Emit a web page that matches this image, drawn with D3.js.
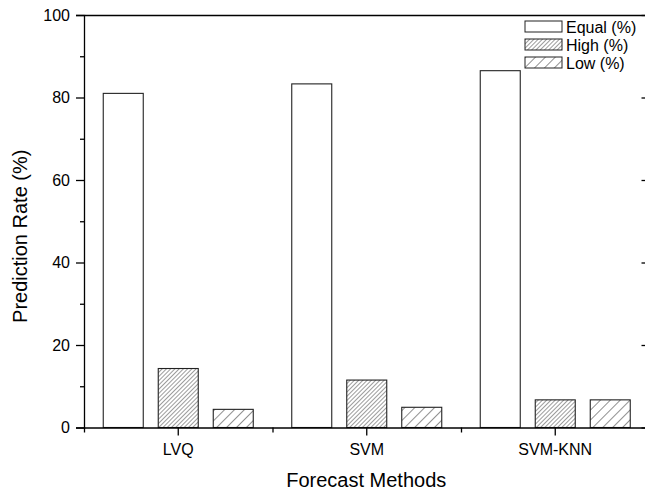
<!DOCTYPE html>
<html lang="en">
<head>
    <meta charset="UTF-8">
    <script src="https://d3js.org/d3.v7.min.js"></script>
    <title>Prediction Rate</title>
    <style>
        body { margin: 0; background: white; }
        text { font-family: "Liberation Sans", Arial, sans-serif; fill: #000; }
        .axis path, .axis line { stroke: #000; stroke-width: 1.3px; }
    </style>
</head>
<body>
    <div class="fig"></div>
    <script>
        const categories = ["LVQ", "SVM", "SVM-KNN"];
        const seriesNames = ["Equal (%)", "High (%)", "Low (%)"];
        const equalValues = [81.0, 83.3, 86.5];
        const highValues = [14.3, 11.5, 6.7];
        const lowValues = [4.4, 4.9, 6.7];
        const yTicks = [0, 20, 40, 60, 80, 100];

        const width = 645, height = 492;
        const margin = { left: 84, top: 15, right: -4.5, bottom: 64.5 };

        const svg = d3.select(".fig").append("svg")
            .attr("width", width)
            .attr("height", height);

        // hatch fills
        const defs = svg.append("defs");
        const hatch = (id, gap, sw) => {
            const p = defs.append("pattern")
                .attr("id", id)
                .attr("patternUnits", "userSpaceOnUse")
                .attr("width", gap).attr("height", gap)
                .attr("patternTransform", "rotate(45)");
            p.append("rect").attr("width", gap).attr("height", gap).attr("fill", "white");
            p.append("line").attr("x1", 0).attr("y1", 0).attr("x2", 0).attr("y2", gap)
                .attr("stroke", "#222").attr("stroke-width", sw);
        };
        hatch("hatchHigh", 3, 0.9);
        hatch("hatchLow", 7, 1);
        const fills = ["white", "url(#hatchHigh)", "url(#hatchLow)"];

        const x0 = margin.left, x1 = width - margin.right;
        const yBottom = height - margin.bottom;

        const x = d3.scaleBand().domain(categories).range([x0, x1]);
        const xEdge = d3.scaleLinear().domain([0, categories.length]).range([x0, x1]);
        const y = d3.scaleLinear().domain([0, 100]).range([yBottom, margin.top]);

        const barW = 40, barGap = 15;
        const table = categories.map((c, i) => ({
            cat: c,
            vals: [equalValues[i], highValues[i], lowValues[i]]
        }));

        // bars
        const groups = svg.selectAll("g.grp")
            .data(table)
            .enter().append("g")
            .attr("class", "grp");

        groups.selectAll("rect")
            .data(d => d.vals.map((v, k) => ({ cat: d.cat, v: v, k: k })))
            .enter().append("rect")
            .attr("x", d => x(d.cat) + x.bandwidth() / 2 + (d.k - 1) * (barW + barGap) - barW / 2)
            .attr("y", d => y(d.v))
            .attr("width", barW)
            .attr("height", d => yBottom - y(d.v))
            .attr("fill", d => fills[d.k])
            .attr("stroke", "#222")
            .attr("stroke-width", 1.1);

        // left axis
        svg.append("g").attr("class", "axis")
            .attr("transform", `translate(${x0},0)`)
            .call(d3.axisLeft(y).tickValues(yTicks).tickSize(8).tickPadding(6))
            .call(g => g.selectAll("text").style("font-size", "16px"));
        svg.append("g").attr("class", "axis")
            .attr("transform", `translate(${x0},0)`)
            .call(d3.axisLeft(y).tickValues(d3.range(10, 100, 20)).tickSize(4).tickFormat(""))
            .call(g => g.select(".domain").remove());

        // right axis, ticks inward
        svg.append("g").attr("class", "axis")
            .attr("transform", `translate(${x1},0)`)
            .call(d3.axisLeft(y).tickValues(yTicks).tickSizeOuter(0).tickFormat(""))
            .call(g => g.selectAll(".tick line").attr("x2", -8));
        svg.append("g").attr("class", "axis")
            .attr("transform", `translate(${x1},0)`)
            .call(d3.axisLeft(y).tickValues(d3.range(10, 100, 20)).tickFormat(""))
            .call(g => g.select(".domain").remove())
            .call(g => g.selectAll(".tick line").attr("x2", -4));

        // bottom axis
        svg.append("g").attr("class", "axis")
            .attr("transform", `translate(0,${yBottom})`)
            .call(d3.axisBottom(x).tickSize(8).tickPadding(8).tickSizeOuter(0))
            .call(g => g.selectAll("text").style("font-size", "16px"));
        svg.append("g").attr("class", "axis")
            .attr("transform", `translate(0,${yBottom})`)
            .call(d3.axisBottom(xEdge).ticks(categories.length).tickSize(5).tickFormat(""))
            .call(g => g.select(".domain").remove());

        // top frame
        svg.append("g").attr("class", "axis")
            .attr("transform", `translate(0,${margin.top})`)
            .call(d3.axisTop(x).tickSize(0).tickFormat(""));

        // axis titles
        svg.append("text")
            .attr("x", (x0 + x1) / 2 - 0.5)
            .attr("y", 487)
            .attr("text-anchor", "middle")
            .style("font-size", "20px")
            .text("Forecast Methods");
        svg.append("text")
            .attr("transform", `translate(27,${(yBottom + margin.top) / 2 + 15}) rotate(-90)`)
            .attr("text-anchor", "middle")
            .style("font-size", "20px")
            .text("Prediction Rate (%)");

        // legend
        const legend = svg.append("g").attr("transform", "translate(525,21)");
        const rows = legend.selectAll("g")
            .data(seriesNames)
            .enter().append("g")
            .attr("transform", (d, i) => `translate(0,${i * 18})`);
        rows.append("rect")
            .attr("width", 37).attr("height", 11)
            .attr("fill", (d, i) => fills[i])
            .attr("stroke", "#222").attr("stroke-width", 1);
        rows.append("text")
            .attr("x", 41).attr("y", 11.5)
            .style("font-size", "16px")
            .text(d => d);
    </script>
</body>
</html>
